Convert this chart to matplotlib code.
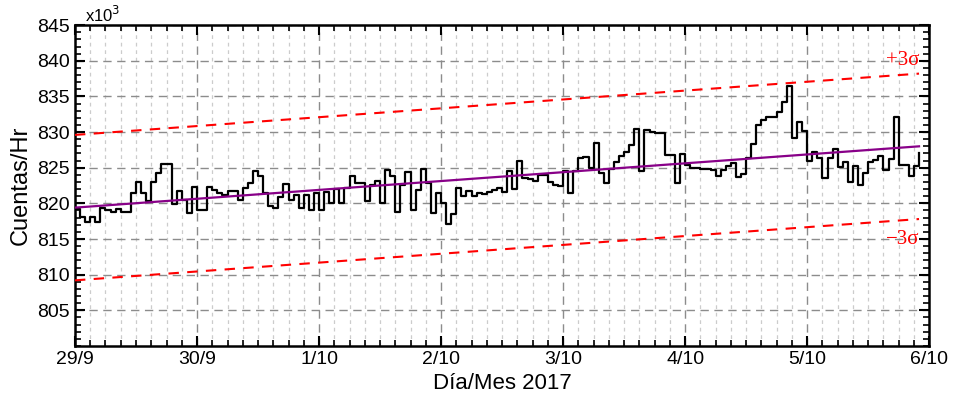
import numpy as np
import matplotlib
matplotlib.use("Agg")
import matplotlib.pyplot as plt
from matplotlib.ticker import MultipleLocator

plt.rcParams["font.family"] = ["Liberation Sans", "DejaVu Sans"]

# ---------------------------------------------
# datos: cuentas por hora (x10^3), un bloque por dia
# ---------------------------------------------
dia_29_9 = [819.2, 818.1, 817.4, 818.1, 817.4, 819.3, 819.0, 818.8, 819.2, 818.8, 818.8, 821.5,
            823.0, 821.5, 820.3, 823.0, 824.3, 825.5, 825.5, 819.9, 821.7, 820.5, 818.6, 822.3]
dia_30_9 = [819.0, 819.0, 822.3, 821.9, 821.5, 821.2, 821.7, 821.8, 820.5, 822.2, 822.9, 824.5,
            823.8, 821.4, 819.6, 819.4, 820.9, 822.7, 820.5, 821.2, 819.3, 821.2, 819.0, 821.5]
dia_1_10 = [819.0, 821.6, 820.0, 822.0, 820.0, 822.2, 823.8, 822.9, 822.8, 820.3, 822.6, 823.1,
            820.0, 824.7, 823.8, 818.8, 822.6, 824.4, 819.0, 821.9, 824.8, 822.9, 818.6, 821.5]
dia_2_10 = [820.0, 817.1, 818.5, 822.1, 821.0, 821.7, 821.0, 821.5, 821.3, 821.6, 821.9, 822.1,
            821.6, 824.6, 822.0, 826.0, 823.5, 823.4, 823.1, 824.0, 824.0, 823.0, 822.6, 822.4]
dia_3_10 = [824.5, 821.5, 824.5, 826.3, 826.5, 825.0, 828.5, 824.2, 822.8, 824.8, 825.8, 826.6,
            827.2, 828.2, 830.4, 824.6, 830.3, 830.0, 829.8, 829.9, 826.8, 826.8, 822.9, 826.9]
dia_4_10 = [825.4, 825.0, 824.9, 824.8, 824.8, 824.7, 823.8, 824.7, 825.2, 825.6, 823.7, 824.1,
            826.3, 828.3, 831.0, 831.7, 832.1, 832.1, 832.8, 834.2, 836.4, 829.2, 831.4, 830.1]
dia_5_10 = [825.9, 827.2, 826.3, 823.6, 826.4, 827.6, 825.1, 825.8, 823.0, 825.2, 822.6, 824.2,
            825.8, 826.1, 826.6, 824.7, 826.2, 832.1, 825.4, 825.4, 823.8, 825.2, 827.1]

etiquetas_x = ["29/9", "30/9", "1/10", "2/10", "3/10", "4/10", "5/10", "6/10"]

# recta de ajuste (inicio, fin) y ancho de la banda 3 sigma
ajuste = [819.4, 828.0]
tres_sigma = 10.2

cuentas = np.array(dia_29_9 + dia_30_9 + dia_1_10 + dia_2_10 + dia_3_10 + dia_4_10 + dia_5_10)
horas = np.arange(len(cuentas))
h_ajuste = np.array([horas[0], horas[-1]])

# ---------------------------------------------
# figura
# ---------------------------------------------
fig = plt.figure(figsize=(9.54, 3.99), dpi=100)
ax = fig.add_axes([0.0786, 0.133, 0.8954, 0.804])

ax.step(horas, cuentas, where="post", color="black", lw=1.6, zorder=4)
ax.plot(h_ajuste, ajuste, color="#880088", lw=1.6, zorder=5)
ax.plot(h_ajuste, np.array(ajuste) + tres_sigma, color="red", lw=1.5, ls=(0, (5, 4)), zorder=3)
ax.plot(h_ajuste, np.array(ajuste) - tres_sigma, color="red", lw=1.5, ls=(0, (5, 4)), zorder=3)

ax.text(166, 840, "+3σ", color="red", family="Liberation Serif", fontsize=15,
        ha="right", va="center", zorder=6)
ax.text(166, 815, "−3σ", color="red", family="Liberation Serif", fontsize=15,
        ha="right", va="center", zorder=6)

ax.set_xlim(0, 168)
ax.set_ylim(800, 845)

ax.set_xticks(np.arange(0, 169, 24))
ax.set_xticklabels(etiquetas_x)
ax.xaxis.set_minor_locator(MultipleLocator(3))
ax.set_yticks(np.arange(805, 846, 5))
ax.yaxis.set_minor_locator(MultipleLocator(1))

ax.grid(which="major", color="#8c8c8c", ls=(0, (6, 4)), lw=1)
ax.grid(which="minor", axis="x", color="#cccccc", ls=(0, (3, 3)), lw=0.9)

ax.tick_params(which="both", direction="in", top=True, right=True, labelsize=14)
ax.tick_params(which="major", length=7, width=1.5)
ax.tick_params(which="minor", length=4, width=1.2)
for s in ax.spines.values():
    s.set_linewidth(1.8)

ax.set_ylabel("Cuentas/Hr", fontsize=17)
ax.set_xlabel("Día/Mes 2017", fontsize=16)
ax.text(0.012, 1.0, "x10$^3$", transform=ax.transAxes, fontsize=12, ha="left", va="bottom")

fig.savefig("out.png", dpi=100)
